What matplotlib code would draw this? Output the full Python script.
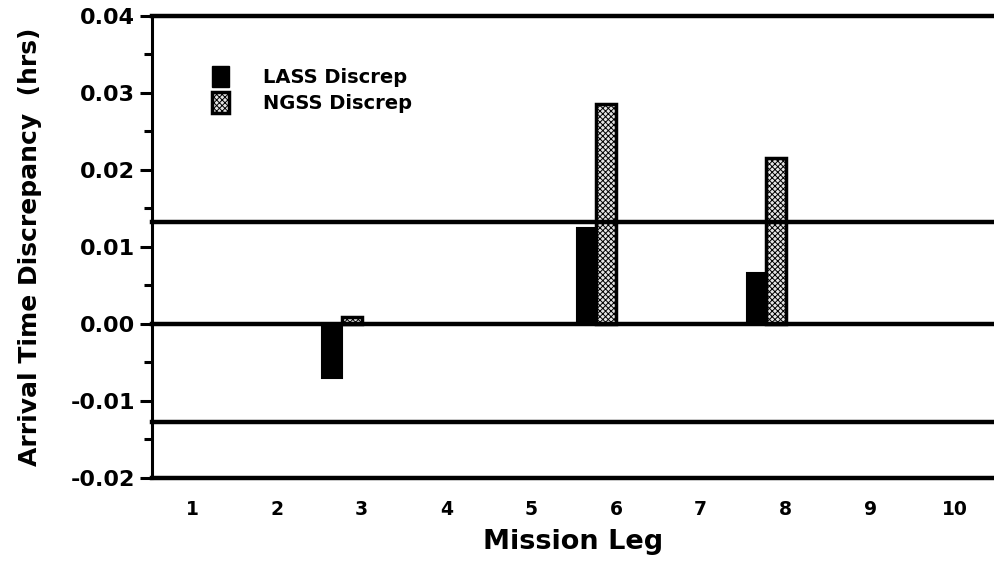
import matplotlib
matplotlib.use("Agg")
import matplotlib.pyplot as plt
from matplotlib.patches import Patch

legs = [1, 2, 3, 4, 5, 6, 7, 8, 9, 10]
lass = [0.0, 0.0, -0.0070, 0.0, 0.0, 0.0125, 0.0, 0.0066, 0.0, 0.0]
ngss = [0.0, 0.0, 0.0009, 0.0, 0.0, 0.0285, 0.0, 0.0215, 0.0, 0.0]
limit_hi = 0.0132
limit_lo = -0.0127
yticks = [-0.02, -0.01, 0.00, 0.01, 0.02, 0.03, 0.04]
ytick_labels = ["-0.02", "-0.01", "0.00", "0.01", "0.02", "0.03", "0.04"]

plt.rcParams["font.family"] = ["DejaVu Sans"]
plt.rcParams["font.weight"] = "bold"
plt.rcParams["hatch.linewidth"] = 0.7

fig = plt.figure(figsize=(9.95, 5.62), dpi=100)
ax = fig.add_axes([0.1528, 0.1495, 0.8472, 0.8225])

w = 0.23
xs_l = [x - 1.5 * w for x in legs]
xs_n = [x - 0.5 * w for x in legs]
for x, v in zip(xs_l, lass):
    if v != 0:
        ax.bar(x, v, width=w, color="black", edgecolor="black", linewidth=1.5, zorder=2)
for x, v in zip(xs_n, ngss):
    if v != 0:
        ax.bar(x, v, width=w, color="#e4e4e4", edgecolor="black", linewidth=2.5,
               hatch="xxxxxx", zorder=2)

# reference lines across the plot
for yv in [0.04, limit_hi, 0.0, limit_lo, -0.02]:
    ax.axhline(yv, color="black", linewidth=3.2, zorder=3, clip_on=False)

ax.set_xlim(0.53, 10.47)
ax.set_ylim(-0.02, 0.04)

for s in ["top", "right", "bottom"]:
    ax.spines[s].set_visible(False)
ax.spines["left"].set_linewidth(2.2)

ax.set_yticks(yticks)
ax.set_yticklabels(ytick_labels, fontsize=16, fontweight="bold")
ax.set_yticks([-0.015, -0.005, 0.005, 0.015, 0.025, 0.035], minor=True)
ax.tick_params(axis="y", which="major", direction="out", length=9, width=2.2, pad=3)
ax.tick_params(axis="y", which="minor", direction="out", length=6, width=2.2)

ax.set_xticks(legs)
ax.set_xticklabels([str(v) for v in legs], fontsize=13.5, fontweight="bold")
ax.tick_params(axis="x", length=0, pad=16)

ax.set_ylabel("Arrival Time Discrepancy  (hrs)", fontsize=18, fontweight="bold")
ax.yaxis.set_label_coords(-0.13, 0.5)
ax.set_xlabel("Mission Leg", fontsize=19.5, fontweight="bold", labelpad=7)

handles = [Patch(facecolor="black", edgecolor="black"),
           Patch(facecolor="#e4e4e4", edgecolor="black", hatch="xxxxxx", linewidth=2.5)]
ax.legend(handles, ["LASS Discrep", "NGSS Discrep"], loc="upper left",
          bbox_to_anchor=(0.05, 0.93), frameon=False,
          handlelength=0.9, handleheight=1.3, handletextpad=1.75, labelspacing=0.25,
          prop={"weight": "bold", "size": 14})

fig.savefig("out.png", dpi=100)
